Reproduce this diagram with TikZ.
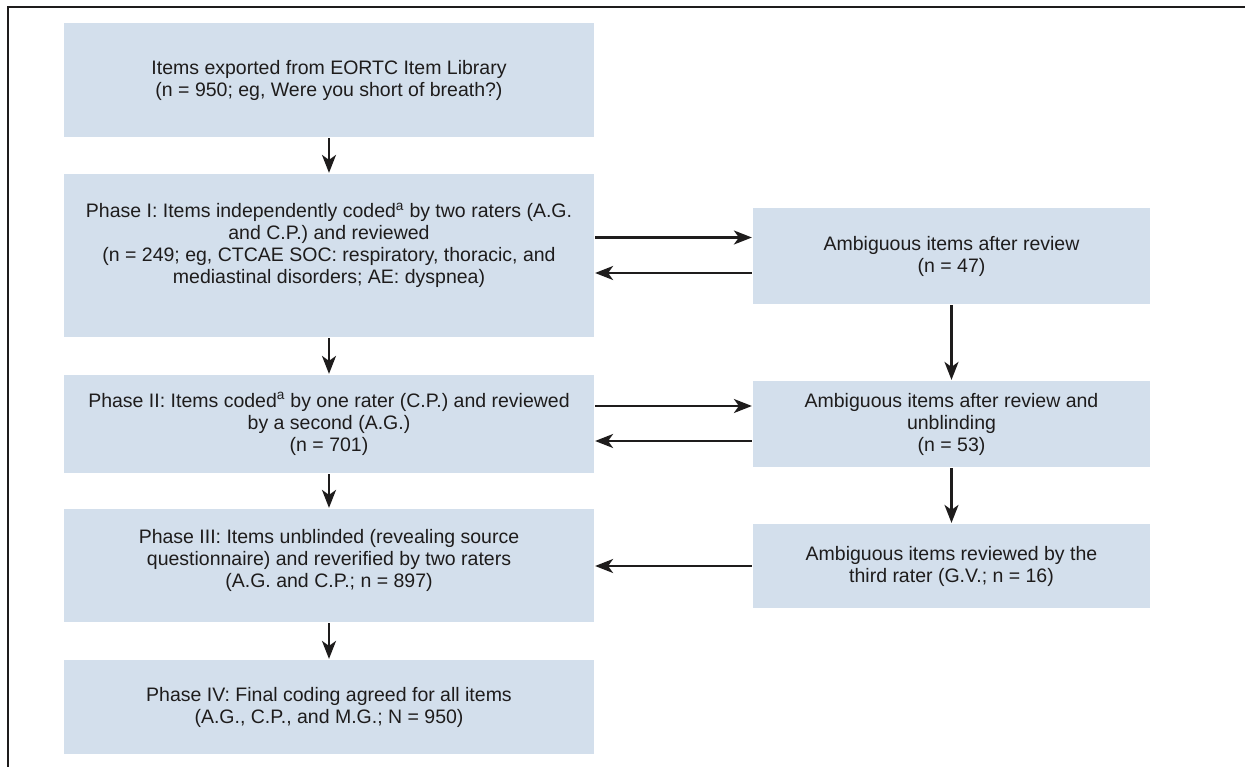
\documentclass[tikz,border=0pt]{standalone}
\usepackage{fontspec}
\setmainfont{Liberation Sans}
\usepackage{tikz}
\usetikzlibrary{arrows.meta}
\definecolor{boxfill}{RGB}{211,223,236}
\definecolor{ink}{RGB}{30,28,28}
\tikzset{basic/.style={fill=boxfill,text=ink,align=center,inner sep=0pt,
                       font=\fontsize{19.5}{22}\selectfont}}
\tikzset{stage/.style={basic,minimum width=530pt}}
\tikzset{side/.style={basic,minimum width=397pt}}

\begin{document}
\begin{tikzpicture}[x=1pt,y=-1pt,line width=2.2pt,draw=ink,
                    >={Stealth[length=18pt,width=14pt,inset=5pt]}]
    \useasboundingbox (0,0) rectangle (1245,767);
    \draw[line width=1.6pt] (8,767) -- (8,7) -- (1245,7);

    % left column
    \node[stage,minimum height=114pt] (src) at (329,80)
        {Items exported from EORTC Item Library\\(n = 950; eg, Were you short of breath?)};
    \node[stage,minimum height=163pt,text depth=24pt] (p1) at (329,255.5)
        {Phase I: Items independently coded\textsuperscript{a} by two raters (A.G.\\
         and C.P.) and reviewed\\(n = 249; eg, CTCAE SOC: respiratory, thoracic, and\\
         mediastinal disorders; AE: dyspnea)};
    \node[stage,minimum height=98pt] (p2) at (329,424)
        {Phase II: Items coded\textsuperscript{a} by one rater (C.P.) and reviewed\\
         by a second (A.G.)\\(n = 701)};
    \node[stage,minimum height=113pt,text depth=14pt] (p3) at (329,565.5)
        {Phase III: Items unblinded (revealing source\\
         questionnaire) and reverified by two raters\\(A.G. and C.P.; n = 897)};
    \node[stage,minimum height=94pt] (p4) at (329,707)
        {Phase IV: Final coding agreed for all items\\(A.G., C.P., and M.G.; N = 950)};

    % right column
    \node[side,minimum height=96pt] (a47) at (951.5,256)
        {Ambiguous items after review\\(n = 47)};
    \node[side,minimum height=86pt] (a53) at (951.5,424)
        {Ambiguous items after review and\\unblinding\\(n = 53)};
    \node[side,minimum height=84pt] (a16) at (951.5,566)
        {Ambiguous items reviewed by the\\third rater (G.V.; n = 16)};

    % Arrows
    \foreach \a/\b in {src/p1,p1/p2,p2/p3,p3/p4,a47/a53,a53/a16}
        \draw[->] (\a) -- (\b);
    \foreach \l/\r in {p1/a47,p2/a53}{%
        \draw[->] ([yshift=18pt]\l.east) coordinate (t) -- (t -| \r.west);
        \draw[->] ([yshift=-17pt]\r.west) coordinate (t) -- (t -| \l.east);
    }
    \draw[->] (a16) -- (a16 -| p3.east);
\end{tikzpicture}
\end{document}
